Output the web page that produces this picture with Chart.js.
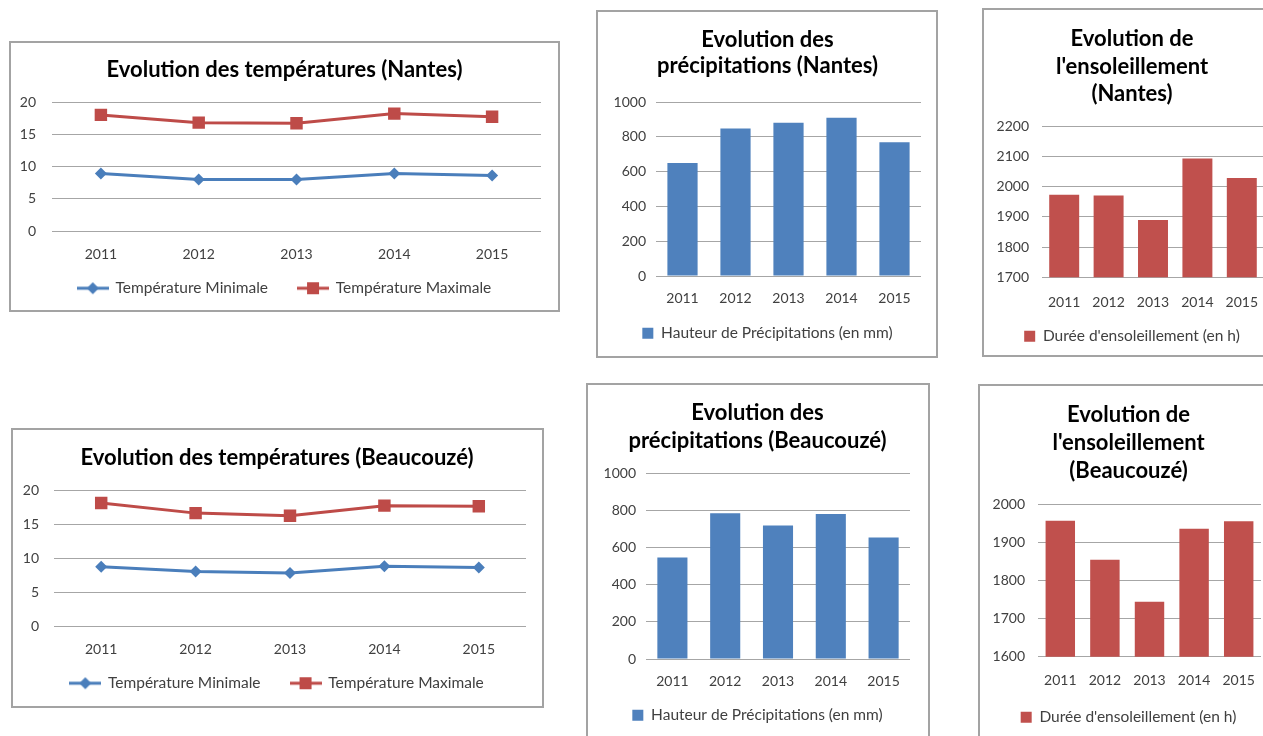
<!DOCTYPE html>
<html>
<head>
<meta charset="utf-8">
<script src="https://cdn.jsdelivr.net/npm/chart.js@4.4.0/dist/chart.umd.min.js"></script>
<style>
html,body{margin:0;padding:0;background:#fff;overflow:hidden;width:1263px;height:736px;position:relative;}
.frame{position:absolute;border:2px solid #a3a3a3;box-sizing:border-box;}
canvas{position:absolute;}
</style>
</head>
<body>
<div class="frame" style="left:9px;top:41px;width:551px;height:271px"></div>
<div class="frame" style="left:596px;top:10px;width:342px;height:348px"></div>
<div class="frame" style="left:982px;top:8px;width:400px;height:349px"></div>
<div class="frame" style="left:11px;top:428px;width:533px;height:280px"></div>
<div class="frame" style="left:586px;top:383px;width:344px;height:400px"></div>
<div class="frame" style="left:978px;top:384px;width:400px;height:400px"></div>

<canvas id="c1" width="548" height="268" style="left:10px;top:42px"></canvas>
<canvas id="c2" width="340" height="346" style="left:597px;top:11px"></canvas>
<canvas id="c3" width="298" height="347" style="left:983px;top:9px"></canvas>
<canvas id="c4" width="531" height="278" style="left:12px;top:429px"></canvas>
<canvas id="c5" width="341" height="360" style="left:587px;top:384px"></canvas>
<canvas id="c6" width="300" height="360" style="left:979px;top:385px"></canvas>

<script>
// ---- data ----
const years = ['2011', '2012', '2013', '2014', '2015'];
const nantesTempMin = [8.9, 8.0, 8.0, 8.9, 8.6];
const nantesTempMax = [18.0, 16.8, 16.7, 18.2, 17.7];
const beaucouzeTempMin = [8.7, 8.0, 7.8, 8.8, 8.6];
const beaucouzeTempMax = [18.1, 16.6, 16.2, 17.7, 17.6];
const nantesPrecip = [650, 847, 881, 910, 769];
const beaucouzePrecip = [546, 783, 718, 779, 653];
const nantesSun = [1974, 1971, 1890, 2094, 2029];
const beaucouzeSun = [1956, 1854, 1744, 1935, 1955];

const labelMin = 'Température Minimale';
const labelMax = 'Température Maximale';
const labelPrecip = 'Hauteur de Précipitations (en mm)';
const labelSun = "Durée d'ensoleillement (en h)";

const BLUE = '#4A7EBB', RED = '#BE4B48';
const BAR_BLUE = '#4F81BD', BAR_RED = '#C0504D';
const GRID = '#a6a6a6', TXT = '#404040';
const FONT = 'Lato';
const TITLE_SIZE = 22, TICK_SIZE = 14, LEGEND_SIZE = 15.5;

Chart.defaults.font.family = FONT;
Chart.defaults.animation = false;

// let tick labels draw outside their scale boxes (no clipping)
const noLabelClip = {
  id: 'noLabelClip',
  afterLayout(chart) {
    Object.values(chart.scales).forEach(sc => { sc._computeLabelArea = () => undefined; });
  }
};

function legendLineImage(color, style) {
  const c = document.createElement('canvas');
  c.width = 32; c.height = 14;
  const g = c.getContext('2d');
  g.strokeStyle = color; g.lineWidth = 3;
  g.beginPath(); g.moveTo(0, 7); g.lineTo(32, 7); g.stroke();
  g.fillStyle = color;
  if (style === 'diamond') {
    g.beginPath(); g.moveTo(16, 1); g.lineTo(22, 7); g.lineTo(16, 13); g.lineTo(10, 7); g.closePath(); g.fill();
  } else {
    g.fillRect(10, 1, 12, 12);
  }
  return c;
}

function make(id, s) {
  const isLine = s.type === 'line';
  const legendLabels = isLine ? {
    usePointStyle: true, pointStyleWidth: 30, padding: 30, color: TXT,
    font: {family: FONT, size: LEGEND_SIZE},
    generateLabels(chart) {
      const items = Chart.defaults.plugins.legend.labels.generateLabels(chart);
      items.forEach((it, i) => { it.pointStyle = s.legendImgs[i]; });
      return items;
    }
  } : {
    boxWidth: 11, boxHeight: 11, padding: 10, color: TXT,
    font: {family: FONT, size: LEGEND_SIZE}
  };
  return new Chart(document.getElementById(id), {
    type: s.type,
    data: {labels: years, datasets: s.datasets},
    plugins: [noLabelClip],
    options: {
      responsive: false, devicePixelRatio: 1, animation: false,
      layout: {padding: s.pad},
      plugins: {
        tooltip: {enabled: false},
        title: {
          display: true, text: s.title, color: '#000',
          font: {family: FONT, size: TITLE_SIZE, weight: 'bold', lineHeight: s.titleLH},
          padding: s.titlePad
        },
        legend: {position: 'bottom', labels: legendLabels}
      },
      scales: {
        x: {
          offset: true,
          grid: {display: false, drawTicks: false},
          border: {display: false},
          ticks: {color: TXT, font: {family: FONT, size: TICK_SIZE}, padding: s.xPad, autoSkip: false, maxRotation: 0},
          afterFit: sc => { sc.height = s.xH; }
        },
        y: {
          min: s.yMin, max: s.yMax,
          grid: {color: GRID, lineWidth: 1, drawTicks: false},
          border: {display: false},
          ticks: {stepSize: s.step, color: TXT, font: {family: FONT, size: TICK_SIZE}, padding: s.yPad,
                  callback: v => String(v)},
          afterFit: sc => { sc.width = s.yW; }
        }
      }
    }
  });
}

function lineSets(minData, maxData) {
  return [
    {label: labelMin, data: minData, borderColor: BLUE, backgroundColor: BLUE, borderWidth: 3,
     pointStyle: 'rectRot', pointRadius: 6, pointBorderWidth: 0, pointBackgroundColor: BLUE, tension: 0},
    {label: labelMax, data: maxData, borderColor: RED, backgroundColor: RED, borderWidth: 3,
     pointStyle: 'rect', pointRadius: 8.8, pointBorderWidth: 0, pointBackgroundColor: RED, tension: 0}
  ];
}
const lineImgs = [legendLineImage(BLUE, 'diamond'), legendLineImage(RED, 'square')];

// Nantes temperatures
make('c1', {
  type: 'line', datasets: lineSets(nantesTempMin, nantesTempMax), legendImgs: lineImgs,
  title: 'Evolution des températures (Nantes)', titleLH: '24px', titlePad: {top: 16, bottom: 20},
  pad: {left: 18, right: 17, top: 0, bottom: 4},
  yMin: 0, yMax: 20, step: 5, yW: 24, yPad: 16, xH: 19.5, xPad: 15
});
// Beaucouzé temperatures
make('c4', {
  type: 'line', datasets: lineSets(beaucouzeTempMin, beaucouzeTempMax), legendImgs: lineImgs,
  title: 'Evolution des températures (Beaucouzé)', titleLH: '24px', titlePad: {top: 17, bottom: 20},
  pad: {left: 16, right: 17, top: 0, bottom: 6},
  yMin: 0, yMax: 20, step: 5, yW: 26, yPad: 15, xH: 19.5, xPad: 15.5
});
// Nantes precipitation
make('c2', {
  type: 'bar',
  datasets: [{label: labelPrecip, data: nantesPrecip, backgroundColor: BAR_BLUE, barPercentage: 0.57, categoryPercentage: 1}],
  title: ['Evolution des', 'précipitations (Nantes)'], titleLH: '26px', titlePad: {top: 16, bottom: 23},
  pad: {left: 17, right: 16, top: 0, bottom: 6},
  yMin: 0, yMax: 1000, step: 200, yW: 42, yPad: 10, xH: 39.5, xPad: 14
});
// Beaucouzé precipitation
make('c5', {
  type: 'bar',
  datasets: [{label: labelPrecip, data: beaucouzePrecip, backgroundColor: BAR_BLUE, barPercentage: 0.57, categoryPercentage: 1}],
  title: ['Evolution des', 'précipitations (Beaucouzé)'], titleLH: '28px', titlePad: {top: 15, bottom: 18},
  pad: {left: 18, right: 18, top: 0, bottom: 11},
  yMin: 0, yMax: 1000, step: 200, yW: 41, yPad: 10, xH: 38.5, xPad: 14.5
});
// Nantes sunshine
make('c3', {
  type: 'bar',
  datasets: [{label: labelSun, data: nantesSun, backgroundColor: BAR_RED, barPercentage: 0.675, categoryPercentage: 1}],
  title: ['Evolution de', "l'ensoleillement", '(Nantes)'], titleLH: '27.5px', titlePad: {top: 16.5, bottom: 18.5},
  pad: {left: 17, right: 17, top: 0, bottom: 2},
  yMin: 1700, yMax: 2200, step: 100, yW: 42, yPad: 13, xH: 41.2, xPad: 16.5
});
// Beaucouzé sunshine
make('c6', {
  type: 'bar',
  datasets: [{label: labelSun, data: beaucouzeSun, backgroundColor: BAR_RED, barPercentage: 0.66, categoryPercentage: 1}],
  title: ['Evolution de', "l'ensoleillement", '(Beaucouzé)'], titleLH: '28px', titlePad: {top: 15.5, bottom: 19.5},
  pad: {left: 17, right: 18, top: 0, bottom: 10},
  yMin: 1600, yMax: 2000, step: 100, yW: 42, yPad: 13, xH: 42.8, xPad: 15
});
</script>
</body>
</html>
